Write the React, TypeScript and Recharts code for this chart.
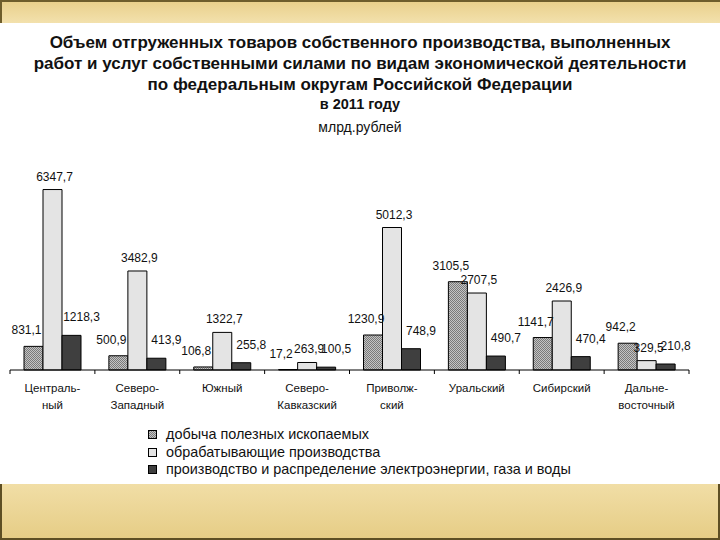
import React from "react";
import { BarChart, Bar, XAxis, YAxis, LabelList } from "recharts";

const regions = [
  "Централь-\nный",
  "Северо-\nЗападный",
  "Южный",
  "Северо-\nКавказский",
  "Приволж-\nский",
  "Уральский",
  "Сибирский",
  "Дальне-\nвосточный",
];
const mining = [831.1, 500.9, 106.8, 17.2, 1230.9, 3105.5, 1141.7, 942.2];
const manufacturing = [6347.7, 3482.9, 1322.7, 263.9, 5012.3, 2707.5, 2426.9, 329.5];
const utilities = [1218.3, 413.9, 255.8, 100.5, 748.9, 490.7, 470.4, 210.8];
const seriesNames = [
  "добыча полезных ископаемых",
  "обрабатывающие производства",
  "производство и распределение электроэнергии, газа и воды",
];

const data = regions.map((r, i) => ({
  region: r,
  mining: mining[i],
  manufacturing: manufacturing[i],
  utilities: utilities[i],
}));

const FILLS = ["url(#dots)", "#e4e4e4", "#3f3f3f"];
const MARGIN = { top: 21, right: 31, left: 10, bottom: 0 };
const HALF_BAND = (720 - MARGIN.left - MARGIN.right) / regions.length / 2;
const FONT = "'Liberation Sans', Arial, sans-serif";

const fmt = (v: number) => v.toFixed(1).replace(".", ",");

const makeLabel = (dx: number, gap: number) => (props: any) => {
  const { x, y, width, value } = props;
  return (
    <text
      x={Number(x) + Number(width) / 2 + dx}
      y={Number(y) - gap}
      textAnchor="middle"
      fontSize={12}
      fontFamily={FONT}
      fill="#111"
    >
      {fmt(Number(value))}
    </text>
  );
};

const RegionTick = (props: any) => {
  const { x, y, payload, index } = props;
  const lines = String(payload.value).split("\n");
  return (
    <g>
      <line x1={x - HALF_BAND} y1={y} x2={x - HALF_BAND} y2={y + 4} stroke="#000" />
      {index === regions.length - 1 && (
        <line x1={x + HALF_BAND} y1={y} x2={x + HALF_BAND} y2={y + 4} stroke="#000" />
      )}
      {lines.map((l, i) => (
        <text
          key={i}
          x={x}
          y={y + 22 + i * 17}
          textAnchor="middle"
          fontSize={11.5}
          fontFamily={FONT}
          fill="#111"
        >
          {l}
        </text>
      ))}
    </g>
  );
};

const Swatch = ({ i }: { i: number }) => (
  <svg width={9} height={9} style={{ marginRight: 9, flex: "none" }}>
    <defs>
      <pattern id={`ldots${i}`} width={2} height={2} patternUnits="userSpaceOnUse">
        <rect width={2} height={2} fill="#c4c4c4" />
        <rect width={1} height={1} fill="#7a7a7a" />
        <rect x={1} y={1} width={1} height={1} fill="#7a7a7a" />
      </pattern>
    </defs>
    <rect
      x={0.5}
      y={0.5}
      width={8}
      height={8}
      fill={i === 0 ? `url(#ldots${i})` : FILLS[i]}
      stroke="#000"
    />
  </svg>
);

export default function App() {
  return (
    <div
      style={{
        position: "absolute",
        left: 0,
        top: 0,
        width: 720,
        height: 540,
        background: "#fff",
        overflow: "hidden",
        fontFamily: FONT,
        color: "#111",
      }}
    >
      <div
        style={{
          position: "absolute",
          left: 0,
          top: 0,
          width: 718,
          height: 21,
          background: "linear-gradient(#e9d08c, #f3e1ad)",
          borderTop: "2px solid #6e5d2c",
          borderLeft: "2px solid #6e5d2c",
        }}
      />
      <div
        style={{
          position: "absolute",
          left: 0,
          top: 484,
          width: 716,
          height: 54,
          background: "linear-gradient(#f1dea6, #e6cd86)",
          border: "2px solid #5e4f24",
          borderTop: "none",
        }}
      />

      <div
        style={{
          position: "absolute",
          top: 32,
          left: 0,
          width: 720,
          textAlign: "center",
          fontWeight: "bold",
          fontSize: 17,
          lineHeight: "21px",
        }}
      >
        <div>Объем отгруженных товаров собственного производства, выполненных</div>
        <div>работ и услуг собственными силами по видам экономической деятельности</div>
        <div>по федеральным округам Российской Федерации</div>
      </div>
      <div
        style={{
          position: "absolute",
          top: 96,
          left: 0,
          width: 720,
          textAlign: "center",
          fontWeight: "bold",
          fontSize: 14.5,
        }}
      >
        в 2011 году
      </div>
      <div
        style={{
          position: "absolute",
          top: 119,
          left: 0,
          width: 720,
          textAlign: "center",
          fontSize: 14,
        }}
      >
        млрд.рублей
      </div>

      <div style={{ position: "absolute", left: 0, top: 150 }}>
        <BarChart
          width={720}
          height={260}
          data={data}
          margin={MARGIN}
          barSize={19}
          barGap={0}
        >
          <defs>
            <pattern id="dots" width={2} height={2} patternUnits="userSpaceOnUse">
              <rect width={2} height={2} fill="#c4c4c4" />
              <rect width={1} height={1} fill="#7a7a7a" />
              <rect x={1} y={1} width={1} height={1} fill="#7a7a7a" />
            </pattern>
          </defs>
          <XAxis
            dataKey="region"
            interval={0}
            height={40}
            tickSize={0}
            tickMargin={0}
            tickLine={false}
            axisLine={{ stroke: "#000", strokeWidth: 1 }}
            tick={<RegionTick />}
          />
          <YAxis hide domain={[0, 7000]} />
          <Bar dataKey="mining" name={seriesNames[0]} fill={FILLS[0]} stroke="#000" strokeWidth={1} isAnimationActive={false}>
            <LabelList dataKey="mining" content={makeLabel(-7, 12)} />
          </Bar>
          <Bar dataKey="manufacturing" name={seriesNames[1]} fill={FILLS[1]} stroke="#000" strokeWidth={1} isAnimationActive={false}>
            <LabelList dataKey="manufacturing" content={makeLabel(2, 9)} />
          </Bar>
          <Bar dataKey="utilities" name={seriesNames[2]} fill={FILLS[2]} stroke="#000" strokeWidth={1} isAnimationActive={false}>
            <LabelList dataKey="utilities" content={makeLabel(10, 14)} />
          </Bar>
        </BarChart>
      </div>

      <div style={{ position: "absolute", left: 148, top: 426, fontSize: 14.4, lineHeight: "17.5px" }}>
        {seriesNames.map((n, i) => (
          <div key={n} style={{ display: "flex", alignItems: "center" }}>
            <Swatch i={i} />
            <span>{n}</span>
          </div>
        ))}
      </div>
    </div>
  );
}
